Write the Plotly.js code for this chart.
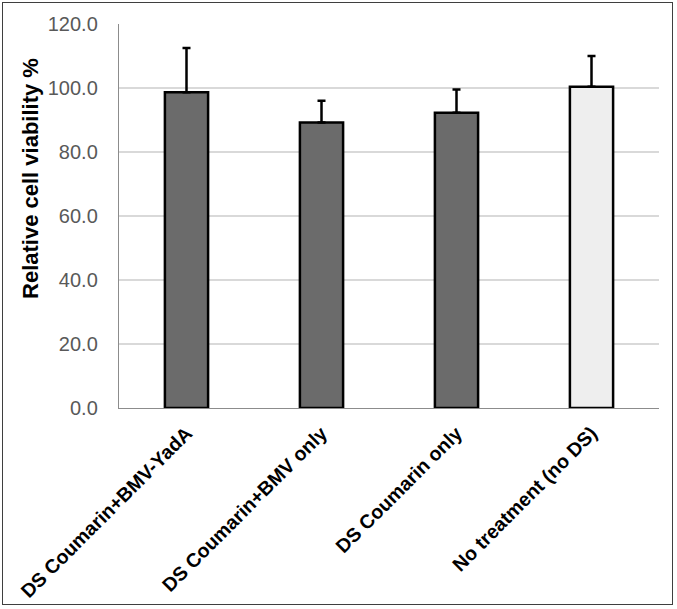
<!DOCTYPE html>
<html>
<head>
<meta charset="utf-8">
<script src="https://cdn.plot.ly/plotly-3.0.1.min.js"></script>
<style>
  html, body { margin: 0; padding: 0; background: #ffffff; }
  #frame { position: absolute; left: 2px; top: 2px; width: 671px; height: 603px; border: 1.5px solid #3f3f3f; box-sizing: border-box; pointer-events: none; z-index: 5; }
  #chart { position: absolute; left: 0; top: 0; width: 677px; height: 609px; }
</style>
</head>
<body>
<div id="chart"></div>
<div id="frame"></div>
<script>
const categories = ["DS Coumarin+BMV-YadA", "DS Coumarin+BMV only", "DS Coumarin only", "No treatment (no DS)"];
const viability = [98.7, 89.2, 92.3, 100.4];
const errorUp = [13.8, 6.8, 7.2, 9.6];
const barColors = ["#6b6b6b", "#6b6b6b", "#6b6b6b", "#eeeeee"];
const yTickVals = [0, 20, 40, 60, 80, 100, 120];
const yTickText = ["0.0", "20.0", "40.0", "60.0", "80.0", "100.0", "120.0"];

const trace = {
  type: "bar",
  x: categories,
  y: viability,
  marker: { color: barColors, line: { color: "#000000", width: 2.5 } },
  width: 0.32,
  error_y: {
    type: "data",
    symmetric: false,
    array: errorUp,
    arrayminus: errorUp.map(() => 0),
    color: "#000000",
    thickness: 2.5,
    width: 4
  },
  hoverinfo: "skip"
};

const layout = {
  width: 677,
  height: 609,
  margin: { l: 119, r: 18, t: 24, b: 201 },
  paper_bgcolor: "#ffffff",
  plot_bgcolor: "#ffffff",
  showlegend: false,
  font: { family: "Liberation Sans, Arial, sans-serif" },
  xaxis: {
    type: "category",
    tickangle: -45,
    tickfont: { family: "Liberation Sans, Arial, sans-serif", size: 19.5, color: "#000000", weight: "bold" },
    showline: true,
    linecolor: "#8c8c8c",
    linewidth: 1.2,
    ticks: "",
    ticklabelstandoff: 5,
    showgrid: false,
    zeroline: false
  },
  yaxis: {
    range: [0, 120],
    tickvals: yTickVals,
    ticktext: yTickText,
    tickfont: { family: "Liberation Sans, Arial, sans-serif", size: 20, color: "#595959" },
    showline: true,
    linecolor: "#8c8c8c",
    linewidth: 1.2,
    showgrid: true,
    gridcolor: "#d9d9d9",
    gridwidth: 1.2,
    zeroline: false,
    ticks: "",
    ticklabelstandoff: 16
  },
  annotations: [{
    text: "Relative cell viability %",
    xref: "paper", yref: "paper",
    x: -0.163, y: 0.599,
    xanchor: "center", yanchor: "middle",
    textangle: -90,
    showarrow: false,
    font: { family: "Liberation Sans, Arial, sans-serif", size: 22, color: "#000000", weight: "bold" }
  }]
};

Plotly.newPlot("chart", [trace], layout, { displayModeBar: false, staticPlot: true });
</script>
</body>
</html>
